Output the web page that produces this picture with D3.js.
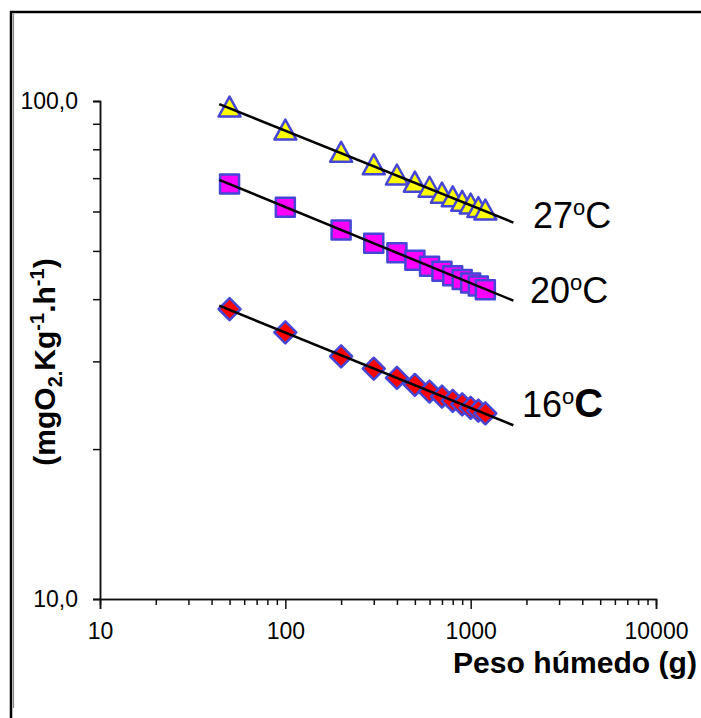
<!DOCTYPE html>
<html>
<head>
<meta charset="utf-8">
<script src="https://cdn.jsdelivr.net/npm/d3@7"></script>
<style>
  body { margin: 0; background: #fff; }
  text { font-family: "Liberation Sans", Arial, sans-serif; }
</style>
</head>
<body>
<svg id="chart" width="701" height="718"></svg>
<script>
// Body weight (g) and oxygen consumption (mgO2.Kg-1.h-1) at three temperatures
const weights = [50, 100, 200, 300, 400, 500, 600, 700, 800, 900, 1000, 1100, 1200];
const rate27 = [96.8, 87.0, 78.5, 74.1, 70.7, 68.4, 66.8, 65.0, 63.9, 62.6, 61.8, 60.8, 60.1];
const rate20 = [68.1, 61.2, 55.1, 51.8, 49.6, 47.9, 46.6, 45.5, 44.6, 43.8, 43.1, 42.5, 41.8];
const rate16 = [38.2, 34.3, 30.7, 29.0, 27.8, 26.9, 26.1, 25.5, 25.0, 24.6, 24.2, 23.9, 23.6];
const seriesTemps = ["27", "20", "16"];
const trendSpan = [44, 1700];
const xTickValues = [10, 100, 1000, 10000];
const yTickValues = [10, 100];

const svg = d3.select("#chart");
const W = 701, H = 718;

// frame
svg.append("rect").attr("x", 0).attr("y", 0).attr("width", W).attr("height", H).attr("fill", "#fff");
svg.append("line").attr("x1", 10).attr("x2", W).attr("y1", 12).attr("y2", 12)
  .attr("stroke", "#000").attr("stroke-width", 2.5);
svg.append("line").attr("x1", 11).attr("x2", 11).attr("y1", 11).attr("y2", H)
  .attr("stroke", "#000").attr("stroke-width", 2.5);
svg.append("line").attr("x1", 13.5).attr("x2", 13.5).attr("y1", 14).attr("y2", 708)
  .attr("stroke", "#888").attr("stroke-width", 1.2);

const x = d3.scaleLog().domain([10, 10000]).range([100, 656]);
const y = d3.scaleLog().domain([10, 100]).range([599, 101]);

// minor tick values: every integer multiple inside each decade
const xMinor = [];
for (let d = 10; d < 10000; d *= 10) for (let k = 2; k <= 9; k++) xMinor.push(d * k);
const yMinor = [];
for (let k = 2; k <= 9; k++) yMinor.push(10 * k);

const axisColor = "#111";
const fmtComma = v => d3.format(".1f")(v).replace(".", ",");

// x axis
const gx = svg.append("g").attr("transform", "translate(0,599)");
gx.call(d3.axisBottom(x).tickValues(xMinor).tickSize(6).tickFormat(""));
gx.append("g").call(d3.axisBottom(x).tickValues(xTickValues).tickSize(10).tickFormat(d3.format("d")));
gx.selectAll("path.domain").attr("stroke", axisColor).attr("stroke-width", 1.5);
gx.selectAll(".tick line").attr("stroke", axisColor).attr("stroke-width", 1.5);
gx.selectAll(".tick text").attr("y", 40).attr("dy", 0)
  .attr("font-size", 23).attr("fill", "#000")
  .style("font-family", "'Liberation Sans', Arial, sans-serif");

// y axis
const gy = svg.append("g").attr("transform", "translate(100,0)");
gy.call(d3.axisLeft(y).tickValues(yMinor).tickSize(7).tickFormat(""));
gy.append("g").call(d3.axisLeft(y).tickValues(yTickValues).tickSize(7).tickPadding(15).tickFormat(fmtComma));
gy.selectAll("path.domain").attr("stroke", axisColor).attr("stroke-width", 1.5);
gy.selectAll(".tick line").attr("stroke", axisColor).attr("stroke-width", 1.5);
gy.selectAll(".tick text").attr("font-size", 23).attr("fill", "#000")
  .style("font-family", "'Liberation Sans', Arial, sans-serif");

// axis titles
svg.append("text").attr("x", 697).attr("y", 673).attr("text-anchor", "end")
  .attr("font-size", 29).attr("font-weight", "bold")
  .attr("textLength", 244).attr("lengthAdjust", "spacingAndGlyphs")
  .text("Peso húmedo (g)");

const yt = svg.append("text").attr("transform", "translate(55,362) rotate(-90)")
  .attr("text-anchor", "middle").attr("font-size", 30).attr("font-weight", "bold");
yt.append("tspan").text("(mgO");
yt.append("tspan").attr("font-size", 20).attr("dy", 7).text("2.");
yt.append("tspan").attr("dy", -7).text("Kg");
yt.append("tspan").attr("font-size", 20).attr("dy", -11).text("-1");
yt.append("tspan").attr("dy", 11).text(".h");
yt.append("tspan").attr("font-size", 20).attr("dy", -11).text("-1");
yt.append("tspan").attr("dy", 11).text(")");

// series definitions
const series = [
  { temp: seriesTemps[0], values: rate27, shape: "triangle", fill: "#ffff00" },
  { temp: seriesTemps[1], values: rate20, shape: "square", fill: "#ff00ff" },
  { temp: seriesTemps[2], values: rate16, shape: "diamond", fill: "#ff0000" }
];

const markerPath = {
  triangle: "M0,-11.5 L11,8.5 L-11,8.5 Z",
  square: "M-9.5,-9.5 H9.5 V9.5 H-9.5 Z",
  diamond: "M0,-11 L11,0 L0,11 L-11,0 Z"
};

// power fit y = a * x^b in log space
function powerFit(xs, ys) {
  const lx = xs.map(Math.log), ly = ys.map(Math.log);
  const mx = d3.mean(lx), my = d3.mean(ly);
  const b = d3.sum(lx, (v, i) => (v - mx) * (ly[i] - my)) / d3.sum(lx, v => (v - mx) ** 2);
  const a = Math.exp(my - b * mx);
  return w => a * Math.pow(w, b);
}

series.forEach(s => {
  const pts = weights.map((w, i) => ({ w, v: s.values[i] }));
  svg.append("g").selectAll("path").data(pts).join("path")
    .attr("transform", d => `translate(${x(d.w)},${y(d.v)})`)
    .attr("d", markerPath[s.shape])
    .attr("fill", s.fill).attr("stroke", "#4646d6").attr("stroke-width", 2.5)
    .attr("stroke-linejoin", "round");

  const f = powerFit(weights, s.values);
  const line = d3.line().x(d => x(d)).y(d => y(f(d)));
  svg.append("path").datum(trendSpan).attr("d", line)
    .attr("fill", "none").attr("stroke", "#000").attr("stroke-width", 2.5);
});

// temperature labels
function tempLabel(tx, ty, temp, big) {
  const t = svg.append("text").attr("x", tx).attr("y", ty).attr("font-size", 36).attr("fill", "#000");
  t.append("tspan").text(temp);
  t.append("tspan").attr("font-size", 22).attr("dy", -13).text("o");
  const c = t.append("tspan").attr("dy", 13).text("C");
  if (big) c.attr("font-size", 40).attr("font-weight", "bold");
}
tempLabel(533, 228, seriesTemps[0], false);
tempLabel(530, 303, seriesTemps[1], false);
tempLabel(522, 417, seriesTemps[2], true);
</script>
</body>
</html>
